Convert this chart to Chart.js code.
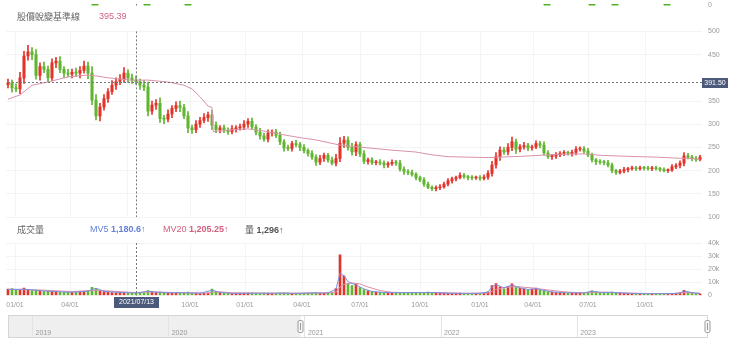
<!DOCTYPE html>
<html><head><meta charset="utf-8">
<script src="https://cdn.jsdelivr.net/npm/chart.js@4.4.0/dist/chart.umd.min.js"></script>
<style>
html,body{margin:0;padding:0;background:#fff;width:740px;height:353px;overflow:hidden;position:relative;}
canvas{position:absolute;left:0;top:0;}
.t{position:absolute;font-family:"Liberation Sans",Arial,sans-serif;font-size:9px;white-space:nowrap;line-height:11px;}
.cjk{font-family:"Noto Sans CJK TC","Noto Sans CJK SC",sans-serif;}
b{font-weight:bold;}
</style></head><body>
<canvas id="cPrice" width="740" height="353"></canvas>
<canvas id="cTop" width="740" height="353"></canvas>
<canvas id="cVol" width="740" height="353"></canvas>
<canvas id="cNav" width="740" height="353"></canvas>
<div class="t cjk" style="left:17px;top:11px;color:#666;">股價蛻變基準線</div>
<div class="t" style="left:99px;top:11px;color:#cf6386;">395.39</div>
<div class="t cjk" style="left:17px;top:224px;color:#666;">成交量</div>
<div class="t" style="left:90px;top:224px;color:#6680d6;">MV5 <b>1,180.6↑</b></div>
<div class="t" style="left:163px;top:224px;color:#d0607e;">MV20 <b>1,205.25↑</b></div>
<div class="t" style="left:245px;top:224px;color:#555;"><span class="cjk">量</span> <b>1,296↑</b></div>
<script>
const FONT = '"Liberation Sans", Arial, sans-serif';
// ---- data ----
const firstOpen = 385;
const closes = [389,378,376,400,447,456,450,405,424,418,
400,432,436,418,410,408,412,410,416,425,
410,352,318,337,355,370,384,392,398,410,
400,395,391.5,384,380,328,341,345,312,311,
322,334,340,336,318,292,288,300,308,314,
320,298,288,292,287,284,290,292,294,300,
306,294,283,275,268,281,283,276,262,249,
248,258,256,250,243,237,229,218,226,233,
223,216,226,259,266,250,240,256,236,220,
223,217,218,216,212,215,218,216,203,198,
196,192,185,180,171,164,161,163,165,171,
178,182,185,190,187,185,184,185,183,186,
194,212,230,244,240,250,262,246,251,254,
249,251,258,255,238,230,231,234,237,238,
237,239,246,247,242,234,223,219,218,217,
212,200,196,199,202,204,206,204,206,205,
204,206,204,202,200,201,208,211,216,232,
229,226,224,229];
// wick lengths above / below each candle body
const hiExt = [8,6,9,12,10,14,9,11,8,10,
7,9,8,10,6,8,7,9,8,11,
9,14,12,8,9,7,10,8,9,12,
7,8,9,6,10,11,9,8,12,7,
9,6,8,10,7,9,6,8,7,9,
6,10,7,5,6,5,7,5,6,8,
6,7,5,8,6,7,5,6,7,5,
6,5,7,5,6,4,6,5,7,5,
4,6,9,12,8,7,9,6,5,7,
4,5,4,6,5,4,5,4,6,5,
4,5,4,3,5,4,3,4,5,4,
5,4,3,5,4,3,4,3,4,5,
6,8,9,7,6,8,10,6,5,7,
5,4,6,5,7,5,4,5,4,5,
4,5,6,4,5,6,4,3,5,4,
5,4,3,4,5,3,4,3,4,3,
4,3,4,3,4,3,5,4,5,7,
5,4,5,4];
const loExt = [7,9,6,10,12,9,11,8,10,7,
9,6,10,7,9,6,8,7,10,6,
12,10,9,11,7,8,6,9,7,8,
10,7,6,9,8,10,7,9,8,10,
6,8,7,9,6,10,8,6,7,5,
8,9,6,7,5,6,5,7,5,6,
7,5,6,7,5,6,7,5,6,7,
5,6,5,7,5,6,5,7,5,6,
5,4,6,7,9,6,7,8,6,5,
6,4,5,4,6,5,4,5,4,6,
5,4,5,4,5,3,4,5,4,3,
4,5,4,3,4,5,4,3,4,3,
5,6,7,8,5,6,7,9,6,5,
6,5,4,6,5,4,6,5,4,5,
4,6,5,4,5,4,5,6,4,5,
4,5,4,3,4,5,3,4,3,4,
3,4,3,4,3,4,3,4,5,6,
4,5,4,3];
const volumes = [4800,5200,3900,4200,5600,4500,3800,4100,3500,3000,
3300,2800,3100,2600,2400,2700,2300,2500,2600,2900,
3400,6200,5400,3600,2900,2500,2300,2100,2400,2200,
2000,1900,1800,2000,2200,3800,2900,2400,2600,2300,
2000,1900,1800,1700,2200,2600,2100,1800,1600,1700,
1900,4800,3200,2200,1800,1600,1500,1500,1600,1700,
1800,2000,1900,1700,1800,1600,1500,1600,1900,2100,
1800,1600,1500,1600,1700,1800,2000,2300,1900,1700,
1900,2200,5200,31000,15000,9000,7500,8500,6000,4500,
3500,3000,2600,2400,2200,2000,1900,1800,2200,2400,
2100,2000,2300,2500,2400,2600,2200,2000,1900,1800,
1700,1600,1700,1800,1600,1500,1400,1500,1600,1700,
2800,7500,9000,6500,5000,7000,8800,6000,5500,5000,
4200,4800,5600,4000,3800,3000,2600,2300,2100,2000,
1900,1800,2200,2000,1900,2400,3600,2800,2300,2000,
2100,2600,2300,1900,1700,1600,1500,1500,1400,1500,
1400,1300,1400,1300,1400,1300,1500,1600,2000,4000,
2600,2000,1600,1300];
const benchIdx = [0,3,6,10,15,20,22,25,31,35,40,44,46,48,50,51,51.3,55,60,65,69,73,77,83,90,96,102,106,110,120,129,137,144,148,154,162,167,173];
const benchVal = [354,363,384,391,402,406,404,400,395,395,391,384,376,359,339,336,284,287,290,284,277,271,266,255,249,244,240,234,230,228,231,235,236,233,231,229,227,225];
const mv5Idx = [0,4,8,12,16,20,22,24,28,32,35,37,40,44,48,51,53,56,60,64,68,72,76,80,82,83,84,85,87,89,91,94,98,102,106,110,114,118,120,121,122,124,126,128,130,132,134,136,140,144,146,148,151,154,158,162,166,168,169,171,173];
const mv5Val = [4600,4800,3700,2900,2500,3300,5500,3200,2300,1900,3200,2600,2100,2100,1700,4000,2400,1600,1800,1750,1850,1600,2000,1850,5000,17000,15000,10500,8000,5000,3100,2300,2100,2300,2300,1750,1600,1600,2600,6500,8300,5800,8000,5800,4600,5200,3900,2700,2000,2000,3300,2400,2400,1800,1450,1400,1450,1900,3500,2200,1400];
const mv20Idx = [0,8,16,22,26,32,36,40,46,50,52,56,62,70,78,82,83,84,86,88,90,93,96,102,108,114,120,122,124,127,131,135,139,143,147,151,155,160,166,169,173];
const mv20Val = [4700,4200,3000,4000,3300,2200,2800,2400,2000,1900,3000,2100,1800,1800,1900,2600,6500,8500,9500,8800,6500,3800,2400,2200,2200,1700,2000,4500,6000,6800,5800,4200,2800,2100,2500,2400,1900,1500,1450,2200,1800];
const priceTicks = [100,150,200,250,300,350,450,500];
const volTicks = [0,10000,20000,30000,40000];
const volTickLabels = ['0','10k','20k','30k','40k'];
const topTicks = [0];
const xTickIdx = [1.75,15.5,29.75,45.5,59.25,73.5,88,103,118,131.25,145,159.25];
const xTickLabels = ['01/01','04/01','07/01','10/01','01/01','04/01','07/01','10/01','01/01','04/01','07/01','10/01'];
const signalIdx = [21.75,34.75,45,134.75,146,151.75,164.75];
const navYears = [2019,2020,2021,2022,2023];
const navMin = 2018.82, navMax = 2023.96, navSelStart = 2020.97, navSelEnd = 2023.96;
const crossIdx = 31.9, crossPrice = 391.5, crossDate = '2021/07/13';

const UP = '#e2332b', DOWN = '#5fb52e';
const opens = closes.map((c,i)=> i===0 ? firstOpen : closes[i-1]);
const candleColors = closes.map((c,i)=> c >= opens[i] ? UP : DOWN);

Chart.defaults.font.family = FONT;
Chart.defaults.animation = false;

function xAxis(showLabels){
  return {type:'linear', min:-0.5, max:173.5, position:'bottom', offset:false, border:{display:false},
    grid:{color:'#f4f4f4', drawTicks:false, offset:false},
    ticks:{display:showLabels, padding:5, color:'#999', font:{size:7}, autoSkip:false, maxRotation:0,
      callback:(v,i)=>xTickLabels[i]},
    afterBuildTicks:s=>{s.ticks = xTickIdx.map(v=>({value:v}));},
    afterFit:s=>{s.height = showLabels ? 20 : 0; s.paddingLeft=0; s.paddingRight=0;}};
}
function yAxis(min,max,ticks,labels,grid){
  return {type:'linear', position:'right', min, max, border:{display:false},
    grid:{display:grid, color:'#f4f4f4', drawTicks:false},
    ticks:{padding:6, color:'#999', font:{size:7}, autoSkip:false,
      callback:(v,i)=> labels ? labels[i] : String(v)},
    afterBuildTicks:s=>{s.ticks = ticks.map(v=>({value:v}));},
    afterFit:s=>{s.width=38; s.paddingTop=0; s.paddingBottom=0;}};
}
const base = {responsive:false, events:[], plugins:{legend:{display:false}, tooltip:{enabled:false}}};

function box(ctx, cx, cy, w, h, text){
  ctx.fillStyle = '#4b597b';
  ctx.fillRect(Math.round(cx - w/2), Math.round(cy - h/2), w, h);
  ctx.fillStyle = '#fff';
  ctx.font = '7px ' + FONT;
  ctx.textAlign = 'center'; ctx.textBaseline = 'middle';
  ctx.fillText(text, cx, cy + 0.5);
}
function vCross(chart){
  const {ctx, chartArea:a, scales:{x}} = chart;
  const px = Math.round(x.getPixelForValue(crossIdx)) + 0.5;
  ctx.save();
  ctx.strokeStyle = '#777'; ctx.lineWidth = 1; ctx.setLineDash([2,2]);
  ctx.beginPath(); ctx.moveTo(px, a.top); ctx.lineTo(px, a.bottom); ctx.stroke();
  ctx.restore();
  return px;
}

// ---- price panel ----
new Chart(document.getElementById('cPrice'), {
  type:'bar',
  data:{datasets:[
    {type:'line', data: benchIdx.map((x,i)=>({x, y:benchVal[i]})), borderColor:'#d993aa', borderWidth:1, pointRadius:0, tension:0},
    {type:'bar', data: closes.map((c,i)=>({x:i, y:[opens[i], c]})), backgroundColor: candleColors, barThickness:2.4, minBarLength:1, grouped:false},
    {type:'bar', data: closes.map((c,i)=>({x:i, y:[Math.min(opens[i], c) - loExt[i], Math.max(opens[i], c) + hiExt[i]]})), backgroundColor: candleColors, barThickness:1, grouped:false}
  ]},
  options:Object.assign({}, base, {
    layout:{padding:{left:6, right:0, top:31.4, bottom:136}},
    scales:{x:xAxis(false), y:yAxis(100, 500, priceTicks, null, true)}
  }),
  plugins:[{id:'hcross', afterDraw(chart){
    const {ctx, chartArea:a, scales:{y}} = chart;
    vCross(chart);
    const py = Math.round(y.getPixelForValue(crossPrice)) + 0.5;
    ctx.save();
    ctx.strokeStyle = '#777'; ctx.lineWidth = 1; ctx.setLineDash([2,2]);
    ctx.beginPath(); ctx.moveTo(a.left + 2, py); ctx.lineTo(a.right, py); ctx.stroke();
    ctx.setLineDash([]);
    box(ctx, a.right + 13, py, 26, 10, crossPrice.toFixed(2));
    ctx.restore();
  }}]
});

// ---- top indicator strip ----
new Chart(document.getElementById('cTop'), {
  type:'scatter',
  data:{datasets:[{data: signalIdx.map(x=>({x, y:0.8})), backgroundColor:'#52b322', borderWidth:0, pointRadius:3.5}]},
  options:Object.assign({}, base, {
    layout:{padding:{left:6, right:0, top:0, bottom:347.5}},
    scales:{x:Object.assign(xAxis(false), {display:false}), y:yAxis(0, 1, topTicks, null, false)}
  }),
  plugins:[{id:'tcross', afterDraw: vCross}]
});

// ---- volume panel ----
new Chart(document.getElementById('cVol'), {
  type:'bar',
  data:{datasets:[
    {type:'line', data: mv5Idx.map((x,i)=>({x, y:mv5Val[i]})), borderColor:'#7b8fe0', borderWidth:1, pointRadius:0, tension:0},
    {type:'line', data: mv20Idx.map((x,i)=>({x, y:mv20Val[i]})), borderColor:'#dc8ea6', borderWidth:1, pointRadius:0, tension:0},
    {type:'bar', data: volumes.map((v,i)=>({x:i, y:v})), backgroundColor: candleColors, barThickness:2}
  ]},
  options:Object.assign({}, base, {
    layout:{padding:{left:6, right:0, top:243, bottom:37.5}},
    scales:{x:xAxis(true), y:yAxis(0, 40000, volTicks, volTickLabels, true)}
  }),
  plugins:[{id:'vcross', afterDraw(chart){
    const {ctx, chartArea:a} = chart;
    const px = vCross(chart);
    ctx.save();
    box(ctx, px, a.bottom + 6.5, 45, 11, crossDate);
    ctx.restore();
  }}]
});

// ---- navigator ----
new Chart(document.getElementById('cNav'), {
  type:'line',
  data:{datasets:[]},
  options:Object.assign({}, base, {
    layout:{padding:{left:8, right:32, top:315, bottom:15}},
    scales:{
      x:{type:'linear', min:navMin, max:navMax, position:'bottom', offset:false, border:{display:false},
        grid:{color:'#e3e3e3', drawTicks:true, tickLength:11},
        ticks:{align:'start', labelOffset:3, padding:-9, color:'#999', font:{size:7}, autoSkip:false, maxRotation:0,
          callback:(v,i)=>String(navYears[i])},
        afterBuildTicks:s=>{s.ticks = navYears.map(v=>({value:v}));},
        afterFit:s=>{s.height=11; s.paddingLeft=0; s.paddingRight=0;}},
      y:{display:false, min:0, max:1}
    }
  }),
  plugins:[{id:'nav',
    beforeDraw(chart){
      const {ctx, chartArea:a, scales:{x}} = chart;
      const xs = x.getPixelForValue(navSelStart);
      ctx.save(); ctx.fillStyle = '#efefef';
      ctx.fillRect(a.left, a.top, xs - a.left, x.bottom - a.top); ctx.restore();
    },
    afterDraw(chart){
      const {ctx, chartArea:a, scales:{x}} = chart;
      const top = a.top, bot = x.bottom;
      ctx.save();
      ctx.strokeStyle = '#d6d6d6'; ctx.lineWidth = 1;
      ctx.strokeRect(a.left + 0.5, top + 0.5, a.right - a.left - 1, bot - top - 1);
      [navSelStart, navSelEnd].forEach(v=>{
        const hx = Math.round(x.getPixelForValue(v)) - 0.5;
        ctx.fillStyle = '#f7f7f7'; ctx.strokeStyle = '#9a9a9a';
        ctx.beginPath();
        if (ctx.roundRect) ctx.roundRect(hx - 2.5, top + 5.5, 5, 12, 1.5); else ctx.rect(hx - 2.5, top + 5.5, 5, 12);
        ctx.fill(); ctx.stroke();
        ctx.beginPath(); ctx.moveTo(hx, top + 8); ctx.lineTo(hx, top + 15); ctx.stroke();
      });
      ctx.restore();
    }
  }]
});
</script>
</body></html>
